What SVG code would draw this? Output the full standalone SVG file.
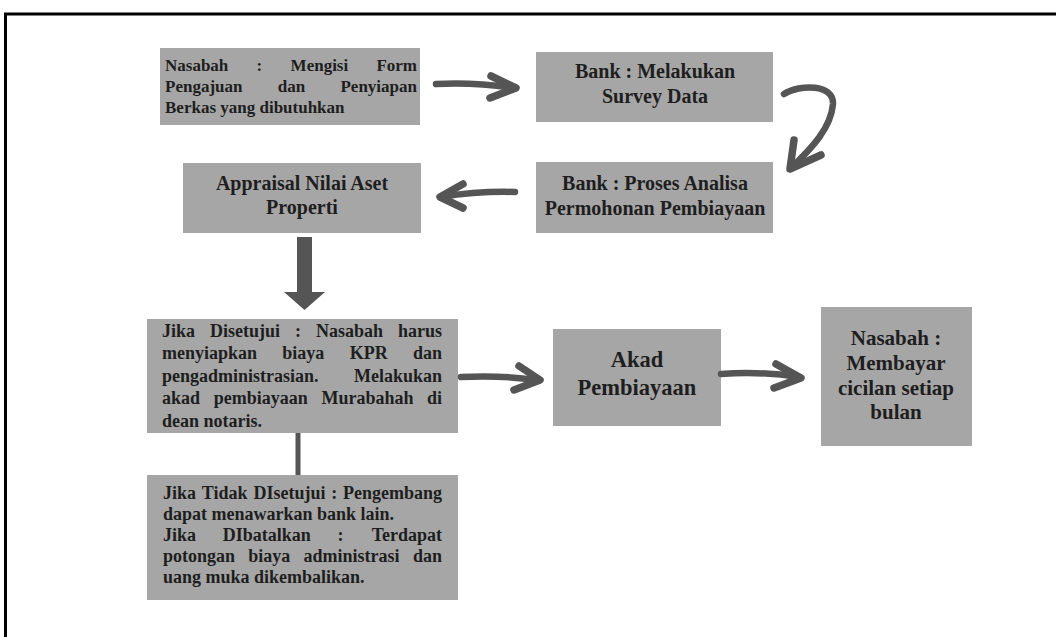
<svg xmlns="http://www.w3.org/2000/svg" width="1056" height="637" viewBox="0 0 1056 637">
<style>
.box{fill:#a6a6a6}
.t{font-family:"Liberation Serif","Times New Roman",serif;font-weight:bold;fill:#1e1e1e}
.c{text-anchor:middle}
.e{text-anchor:end}
.s1{font-size:17px}
.s2{font-size:20px}
.s5{font-size:18px}
.s7{font-size:22.5px}
.s8{font-size:21px}
.ln{fill:none;stroke:#555;stroke-width:6.5;stroke-linecap:round;stroke-linejoin:round}
.hd{fill:none;stroke:#555;stroke-width:7.5;stroke-linecap:round;stroke-linejoin:round}
</style>
<rect width="1056" height="637" fill="#fff"/>
<rect x="5.5" y="14" width="1100" height="700" fill="none" stroke="#000" stroke-width="3"/>

<g id="n1">
<rect class="box" x="160" y="48" width="260" height="77"/>
<text class="t s1" y="71"><tspan x="165">Nasabah</tspan><tspan x="256.6">:</tspan><tspan x="290.6">Mengisi</tspan><tspan x="417" class="e">Form</tspan></text>
<text class="t s1" y="92"><tspan x="165">Pengajuan</tspan><tspan x="277.8">dan</tspan><tspan x="417" class="e">Penyiapan</tspan></text>
<text class="t s1" x="165" y="113">Berkas yang dibutuhkan</text>
</g>

<g id="n2">
<rect class="box" x="536" y="52" width="237" height="70"/>
<text class="t s2 c" x="655" y="78">Bank : Melakukan</text>
<text class="t s2 c" x="655" y="103">Survey Data</text>
</g>

<g id="n3">
<rect class="box" x="536" y="162" width="237" height="71"/>
<text class="t s2 c" x="655" y="190">Bank : Proses Analisa</text>
<text class="t s2 c" x="655" y="215">Permohonan Pembiayaan</text>
</g>

<g id="n4">
<rect class="box" x="183" y="163" width="238" height="70"/>
<text class="t s2 c" x="302" y="190">Appraisal Nilai Aset</text>
<text class="t s2 c" x="302" y="214">Properti</text>
</g>

<g id="n5">
<rect class="box" x="147" y="319" width="311" height="114"/>
<text class="t s5" y="337"><tspan x="162">Jika</tspan><tspan x="210">Disetujui</tspan><tspan x="295">:</tspan><tspan x="316">Nasabah</tspan><tspan x="442" class="e">harus</tspan></text>
<text class="t s5" y="359"><tspan x="162">menyiapkan</tspan><tspan x="282.3">biaya</tspan><tspan x="349.7">KPR</tspan><tspan x="442" class="e">dan</tspan></text>
<text class="t s5" y="382"><tspan x="162">pengadministrasian.</tspan><tspan x="442" class="e">Melakukan</tspan></text>
<text class="t s5" y="404"><tspan x="162">akad</tspan><tspan x="213.7">pembiayaan</tspan><tspan x="321.4">Murabahah</tspan><tspan x="442" class="e">di</tspan></text>
<text class="t s5" x="162" y="427">dean notaris.</text>
</g>

<g id="n6">
<rect class="box" x="147" y="475" width="311" height="125"/>
<text class="t s5" y="499"><tspan x="163">Jika</tspan><tspan x="201.8">Tidak</tspan><tspan x="253.5">DIsetujui</tspan><tspan x="331.3">:</tspan><tspan x="442" class="e">Pengembang</tspan></text>
<text class="t s5" x="163" y="520">dapat menawarkan bank lain.</text>
<text class="t s5" y="541"><tspan x="163">Jika</tspan><tspan x="222.7">DIbatalkan</tspan><tspan x="337.4">:</tspan><tspan x="442" class="e">Terdapat</tspan></text>
<text class="t s5" y="562"><tspan x="163">potongan</tspan><tspan x="248.3">biaya</tspan><tspan x="303.6">administrasi</tspan><tspan x="442" class="e">dan</tspan></text>
<text class="t s5" x="163" y="583">uang muka dikembalikan.</text>
</g>

<g id="n7">
<rect class="box" x="553" y="329" width="168" height="97"/>
<text class="t s7 c" x="637" y="367">Akad</text>
<text class="t s7 c" x="637" y="395">Pembiayaan</text>
</g>

<g id="n8">
<rect class="box" x="821" y="307" width="151" height="139"/>
<text class="t s8 c" x="896" y="345">Nasabah :</text>
<text class="t s8 c" x="896" y="370">Membayar</text>
<text class="t s8 c" x="896" y="395">cicilan setiap</text>
<text class="t s8 c" x="896" y="419">bulan</text>
</g>

<g id="connectors">
<path class="ln" d="M436,84 Q475,82 513,88"/>
<path class="hd" d="M491,76 L516,88 L490,98"/>
<path class="ln" d="M784,94 C800,84 834,84 833,104 C831,128 812,148 791,168"/>
<path class="hd" d="M794,140 L790,169 L821,155"/>
<path class="ln" d="M515,192 Q478,191 441,197"/>
<path class="hd" d="M463,184 L440,197 L463,208"/>
<rect x="297" y="237" width="15" height="56" fill="#555"/>
<polygon points="284,292 325,292 304.5,310" fill="#555"/>
<rect x="295.5" y="433" width="5" height="42" fill="#555"/>
<path class="ln" d="M461,377 Q500,375 537,380"/>
<path class="hd" d="M519,366 L540,380 L514,390"/>
<path class="ln" d="M721,374 Q760,371 799,377"/>
<path class="hd" d="M776,364 L801,378 L774,388"/>
</g>
</svg>
